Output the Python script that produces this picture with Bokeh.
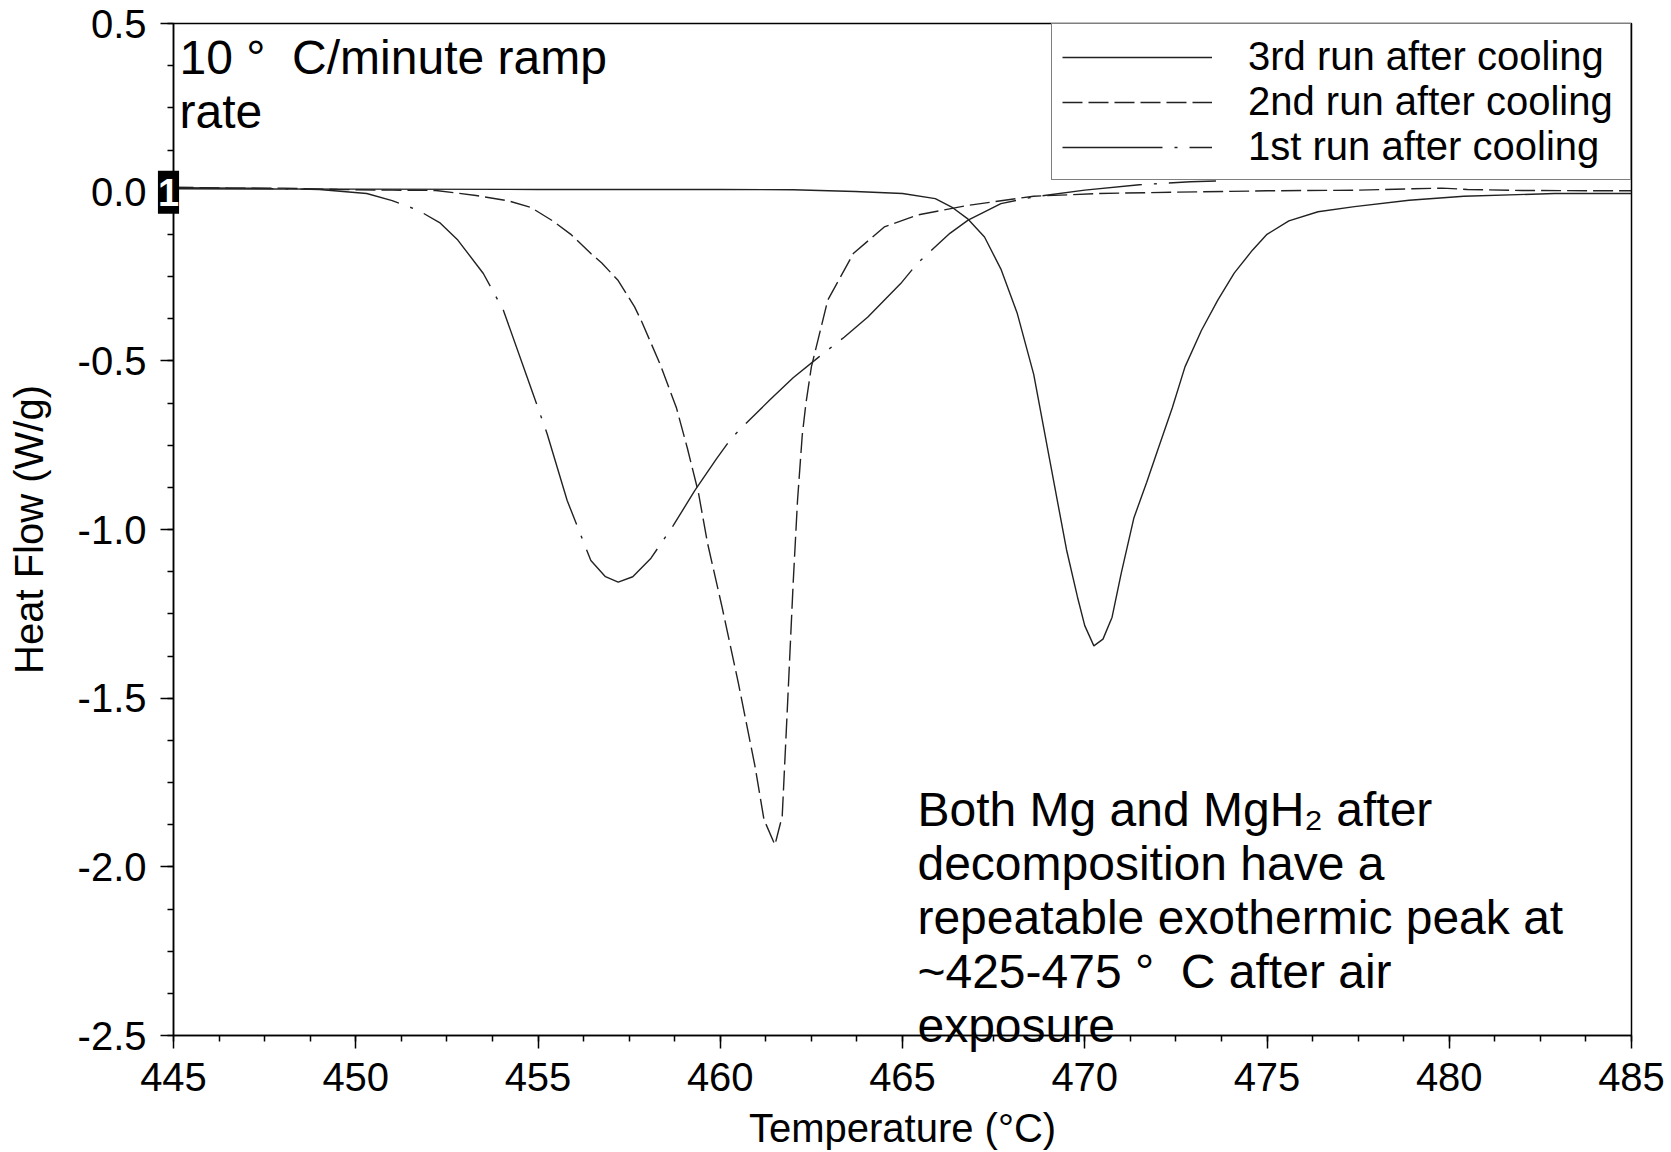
from bokeh.plotting import figure
from bokeh.models import Range1d, FixedTicker, PrintfTickFormatter, Legend, LegendItem, Label, GridBox
from bokeh.embed import file_html
from bokeh.resources import INLINE

# ---- data ----
temp_3rd = [445, 450, 455, 460, 462, 463.7, 465.0, 465.9, 466.35, 466.8, 467.25, 467.7, 468.15,
            468.6, 469.05, 469.5, 469.8, 470.0, 470.25, 470.5, 470.75, 471.0, 471.35, 471.7, 472.0,
            472.4, 472.75, 473.2, 473.65, 474.1, 474.6, 475.0, 475.6, 476.4, 477.4, 478.9, 480.4,
            482.9, 485]
hf_3rd = [0.010, 0.009, 0.008, 0.008, 0.007, 0.002, -0.004, -0.019, -0.044, -0.080, -0.133, -0.228,
          -0.36, -0.54, -0.80, -1.06, -1.20, -1.285, -1.345, -1.325, -1.26, -1.13, -0.965, -0.86,
          -0.765, -0.64, -0.518, -0.41, -0.32, -0.24, -0.172, -0.125, -0.085, -0.058, -0.043, -0.024,
          -0.012, -0.004, -0.004]

temp_2nd = [445, 446.5, 448, 449.5, 451, 452.2, 453.3, 454.2, 454.8, 455.4, 455.9, 456.45, 456.75,
            457.2, 457.65, 457.85, 458.35, 458.8, 459.1, 459.4, 459.65, 460.05, 460.5, 460.95, 461.2,
            461.5, 461.7, 461.85, 462.0, 462.12, 462.25, 462.35, 462.5, 462.95, 463.65, 464.5, 465.4,
            466.8, 468.6, 470.4, 472.5, 475, 477.5, 479.0, 479.8, 480.5, 482, 485]
hf_2nd = [0.015, 0.012, 0.012, 0.008, 0.006, 0.005, -0.010, -0.026, -0.045, -0.085, -0.125, -0.182,
          -0.21, -0.262, -0.34, -0.385, -0.51, -0.64, -0.76, -0.89, -1.04, -1.23, -1.457, -1.70,
          -1.86, -1.935, -1.85, -1.51, -1.16, -0.914, -0.72, -0.627, -0.518, -0.320, -0.182, -0.103,
          -0.068, -0.039, -0.012, -0.004, 0.0, 0.004, 0.006, 0.010, 0.012, 0.008, 0.005, 0.004]

temp_1st = [445, 447, 449, 450.3, 451.0, 451.7, 452.3, 452.8, 453.5, 454.05, 454.7, 455.25, 455.8,
            456.45, 456.85, 457.2, 457.6, 458.1, 458.7, 459.3, 459.9, 460.3, 460.85, 461.35, 462.0,
            462.7, 463.4, 464.05, 464.95, 465.4, 466.3, 466.8, 467.7, 468.6, 470.0, 471.5, 472.9,
            473.6]
hf_1st = [0.013, 0.012, 0.008, -0.004, -0.025, -0.053, -0.09, -0.142, -0.241, -0.35, -0.548, -0.716,
          -0.914, -1.092, -1.14, -1.156, -1.14, -1.085, -0.99, -0.885, -0.79, -0.73, -0.67, -0.617,
          -0.55, -0.489, -0.43, -0.37, -0.271, -0.212, -0.122, -0.083, -0.034, -0.014, 0.006, 0.022,
          0.031, 0.033]

series_names = ["3rd run after cooling", "2nd run after cooling", "1st run after cooling"]
x_ticks = [445, 450, 455, 460, 465, 470, 475, 480, 485]
y_ticks = [-2.5, -2.0, -1.5, -1.0, -0.5, 0.0, 0.5]
note_top = "10 °\u00a0 C/minute ramp\nrate"
note_bottom = ("Both Mg and MgH\u2082 after\ndecomposition have a\nrepeatable exothermic peak at\n"
               "~425-475 °\u00a0 C after air\nexposure")
marker_text = "1"

FONT = "Liberation Sans"
W, H = 1671, 1152
BL, BR, BT, BB = 173, 40, 23, 117
X0, X1, Y0, Y1 = 445, 485, -2.5, 0.5

p = figure(width=W, height=H, output_backend="svg", toolbar_location=None,
           x_range=Range1d(X0, X1), y_range=Range1d(Y0, Y1),
           min_border_left=BL, min_border_right=BR, min_border_top=BT, min_border_bottom=BB,
           background_fill_color="white", border_fill_color="white", frame_align=False)
p.grid.visible = False
p.outline_line_color = "black"
p.outline_line_width = 1.5

r3 = p.line(temp_3rd, hf_3rd, line_color="#222222", line_width=1.4)
r2 = p.line(temp_2nd, hf_2nd, line_color="#222222", line_width=1.4, line_dash="20 6")
r1 = p.line(temp_1st, hf_1st, line_color="#222222", line_width=1.4, line_dash="100 12 3 12")

# axes
p.xaxis.ticker = FixedTicker(ticks=x_ticks,
                             minor_ticks=[445 + 1.25 * i for i in range(33)])
p.yaxis.ticker = FixedTicker(ticks=y_ticks,
                             minor_ticks=[-2.5 + 0.125 * i for i in range(25)])
p.yaxis.formatter = PrintfTickFormatter(format="%.1f")
for ax in (p.xaxis[0], p.yaxis[0]):
    ax.axis_line_color = "black"
    ax.axis_line_width = 1.5
    ax.major_tick_line_color = "black"
    ax.major_tick_line_width = 1.5
    ax.minor_tick_line_color = "black"
    ax.minor_tick_line_width = 1.5
    ax.major_tick_in = 0
    ax.major_tick_out = 13
    ax.minor_tick_in = 0
    ax.minor_tick_out = 6
    ax.major_label_text_font = FONT
    ax.major_label_text_font_size = "40px"
    ax.major_label_text_color = "black"
    ax.axis_label_text_font = FONT
    ax.axis_label_text_font_size = "40px"
    ax.axis_label_text_font_style = "normal"
    ax.axis_label_text_color = "black"
p.xaxis.major_label_standoff = 14
p.yaxis.major_label_standoff = 14
p.xaxis.axis_label = "Temperature (°C)"
p.yaxis.axis_label = "Heat Flow (W/g)"
p.xaxis.axis_label_standoff = 12
p.yaxis.axis_label_standoff = 24

legend = Legend(items=[LegendItem(label=series_names[0], renderers=[r3]),
                       LegendItem(label=series_names[1], renderers=[r2]),
                       LegendItem(label=series_names[2], renderers=[r1])],
                location="top_right", margin=0, padding=10, spacing=0,
                glyph_width=150, glyph_height=40, label_height=40, label_width=372,
                label_standoff=36, label_text_font=FONT, label_text_font_size="40px",
                label_text_color="black", border_line_color="black", border_line_width=1.5,
                background_fill_color="white", background_fill_alpha=1.0)
p.add_layout(legend)

p.add_layout(Label(x=445, y=0.477, text=note_top, x_offset=6,
                   text_baseline="top", text_align="left", text_font=FONT,
                   text_font_size="48px", text_line_height=1.02, text_color="black"))

# transparent overlay covering the whole canvas, sharing the same data mapping,
# so that texts may run over the axes as they do in the original
dx = (X1 - X0) / (W - BL - BR)
dy = (Y1 - Y0) / (H - BT - BB)
ov = figure(width=W, height=H, output_backend="svg", toolbar_location=None,
            x_range=Range1d(X0 - BL * dx, X1 + BR * dx),
            y_range=Range1d(Y0 - BB * dy, Y1 + BT * dy),
            x_axis_location=None, y_axis_location=None,
            min_border_left=0, min_border_right=0, min_border_top=0, min_border_bottom=0,
            background_fill_alpha=0, border_fill_alpha=0, frame_align=False)
ov.grid.visible = False
ov.outline_line_color = None

ov.add_layout(Label(x=465.41, y=-1.752, text=note_bottom,
                    text_baseline="top", text_align="left", text_font=FONT,
                    text_font_size="48px", text_line_height=1.02, text_color="black"))

ov.add_layout(Label(x=445, y=0.0, text=marker_text, x_offset=-5, text_align="center",
                    text_baseline="middle", text_font=FONT, text_font_style="bold",
                    text_font_size="38px", text_color="white", padding=(0, 8),
                    background_fill_color="black", background_fill_alpha=1.0))

root = GridBox(children=[(p, 0, 0), (ov, 0, 0)], spacing=0)

open("out.html", "w").write(file_html(root, INLINE))
